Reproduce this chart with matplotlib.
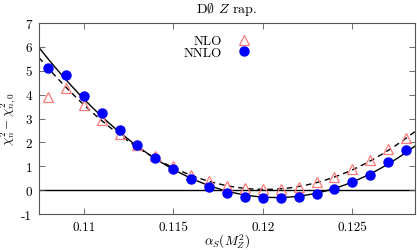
import numpy as np
import matplotlib
matplotlib.use("Agg")
import matplotlib.pyplot as plt

plt.rcParams['font.family'] = ['cmr10', 'DejaVu Serif']
plt.rcParams['mathtext.fontset'] = 'cm'
plt.rcParams['axes.unicode_minus'] = False

# ---- data ----
alpha_s = [0.108, 0.109, 0.110, 0.111, 0.112, 0.113, 0.114, 0.115, 0.116, 0.117, 0.118,
           0.119, 0.120, 0.121, 0.122, 0.123, 0.124, 0.125, 0.126, 0.127, 0.128]
nlo = [3.92, 4.26, 3.57, 2.93, 2.34, 1.88, 1.41, 1.02, 0.63, 0.39, 0.18,
       0.07, 0.03, 0.04, 0.11, 0.32, 0.53, 0.88, 1.27, 1.74, 2.20]
nnlo = [5.12, 4.82, 3.95, 3.21, 2.51, 1.91, 1.33, 0.88, 0.47, 0.14, -0.13,
        -0.27, -0.33, -0.32, -0.27, -0.17, 0.03, 0.32, 0.63, 1.16, 1.70]

# parabolic fits (centre, minimum, curvature)
nlo_fit = (0.12013, 0.03, 34600.0)
nnlo_fit = (0.12074, -0.31, 35825.0)

xticks = [0.11, 0.115, 0.12, 0.125]
xticklabels = ['0.11', '0.115', '0.12', '0.125']
yticks = [-1, 0, 1, 2, 3, 4, 5, 6, 7]
yticklabels = ['-1', '0', '1', '2', '3', '4', '5', '6', '7']
xlim = (0.1075, 0.1285)
ylim = (-1, 7)

fig = plt.figure(figsize=(4.17, 2.51), dpi=100)
ax = fig.add_axes([39/417, 1-215/251, (415-39)/417, (215-24)/251])

xf = np.linspace(xlim[0], xlim[1], 300)
c, m, a = nnlo_fit
ax.plot(xf, m + a*(xf-c)**2, color='black', lw=1.0, zorder=2)
c, m, a = nlo_fit
ax.plot(xf, m + a*(xf-c)**2, color='black', lw=1.0, ls=(0, (4, 3)), zorder=2)
ax.axhline(0, color='black', lw=1.0, zorder=1)

ax.plot(alpha_s, nlo, ls='none', marker='^', ms=7, mfc='none', mec='#ff7a7a', mew=0.9,
        label='NLO', zorder=3)
ax.plot(alpha_s, nnlo, ls='none', marker='o', ms=6.5, mfc='#0000ff', mec='#0000ff',
        label='NNLO', zorder=4)

ax.set_xlim(*xlim)
ax.set_ylim(*ylim)
ax.set_xticks(xticks)
ax.set_xticklabels(xticklabels)
ax.set_yticks(yticks)
ax.set_yticklabels(yticklabels)
ax.tick_params(direction='in', top=True, right=True, length=4, width=0.6,
               labelsize=9.5, color='#555555', pad=5)
for s in ax.spines.values():
    s.set_color('#555555')
    s.set_linewidth(0.8)

ax.set_xlabel(r'$\alpha_S(M_Z^2)$', fontsize=9.5)
ax.xaxis.set_label_coords(0.5, (215-233)/191)
ax.set_ylabel(r'$\chi^2_n - \chi^2_{n,0}$', fontsize=9.5)
ax.yaxis.set_label_coords((19-39)/376, 0.5)
ax.set_title(r'D$\emptyset$ $Z$ rap.', fontsize=10, pad=8)

leg = ax.legend(loc='upper left', bbox_to_anchor=(0.36, 0.985), frameon=False,
                markerfirst=False, fontsize=9.5, handletextpad=1.2,
                labelspacing=-0.05, handlelength=1.0, borderpad=0.2)
for t in leg.get_texts():
    t.set_ha('right')

fig.savefig('out.png', dpi=100)
